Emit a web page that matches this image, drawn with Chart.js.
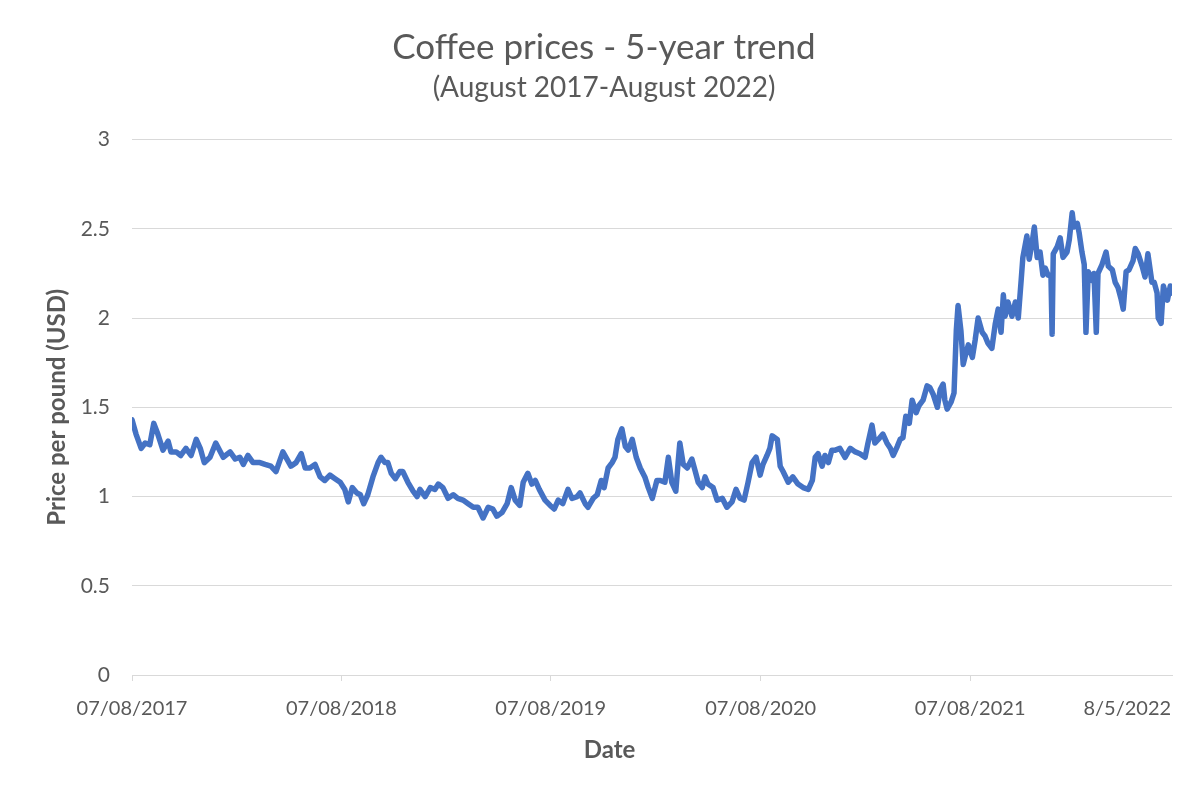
<!DOCTYPE html>
<html lang="en">
<head>
  <meta charset="UTF-8" />
  <title>Coffee prices - 5-year trend</title>
  <script src="https://cdn.jsdelivr.net/npm/chart.js"></script>
  <style>
    body {
      margin: 0;
      padding: 0;
      background-color: #ffffff;
    }

    .chart-box {
      width: 1197px;
      height: 787px;
    }
  </style>
</head>
<body>
  <div class="chart-box">
    <canvas id="coffeeChart" width="1197" height="787"></canvas>
  </div>

  <script>
    // days since 07/08/2017
    const days = [
      0, 7, 16, 23, 31, 38, 45, 54, 63, 68, 77, 85, 94, 103, 112, 119, 126, 136, 146, 159,
      171, 180, 188, 194, 202, 211, 223, 232, 242, 251, 263, 277, 286, 295, 302,
      310, 319, 328, 336, 345, 354, 363, 371, 377, 384, 392, 398, 404, 411, 420, 429, 434, 441, 446, 452,
      459, 467, 472, 481, 490, 497, 502, 511, 520, 528, 534, 542, 551, 560, 568, 577, 586, 595, 603, 612,
      621, 629, 636, 645, 654, 661, 668, 676, 682, 690, 697, 703, 710, 720, 729, 736, 743, 751, 760, 767,
      776, 781, 790, 795, 804, 811, 818, 823, 830, 837, 842, 847, 854, 860, 865, 872, 879, 886, 894, 900,
      907, 915,
      921, 929, 935, 941, 948, 952, 955, 961, 968, 976, 982, 987, 994, 999, 1004, 1013, 1020, 1029, 1037, 1046,
      1053, 1060, 1067, 1074, 1081, 1088, 1095, 1100, 1107, 1112, 1116, 1125, 1130, 1135, 1144, 1152, 1161, 1170, 1179, 1186,
      1191, 1196, 1203, 1208, 1214,
      1220, 1226, 1234, 1243, 1252, 1261, 1269, 1278, 1283, 1290, 1295, 1301, 1309, 1316, 1322, 1327, 1334, 1339, 1344, 1349,
      1355, 1360, 1367, 1372, 1379, 1386, 1391, 1397, 1404, 1409, 1414, 1417, 1421, 1428, 1433, 1437, 1440, 1445, 1449, 1452,
      1458, 1465, 1470, 1475, 1482, 1487, 1492, 1499, 1505, 1510, 1515, 1519, 1522, 1527, 1534, 1540, 1545, 1550, 1553, 1560,
      1564, 1569, 1573, 1578, 1583, 1588, 1592, 1597, 1602, 1604, 1606, 1613, 1618, 1623, 1630, 1634, 1639, 1642, 1648, 1651,
      1656, 1660, 1663, 1667, 1674, 1677, 1681, 1684, 1691, 1698, 1702, 1709, 1714, 1719, 1724, 1728, 1733, 1738, 1745, 1749,
      1754, 1761, 1766, 1771, 1778, 1782, 1787, 1789, 1794, 1798, 1805, 1810, 1813
    ];

    // price per pound (USD)
    const prices = [
      1.43, 1.35, 1.27, 1.30, 1.29, 1.41, 1.35, 1.26, 1.31, 1.25, 1.25, 1.23, 1.27, 1.23, 1.32, 1.27, 1.19, 1.22, 1.30, 1.22,
      1.25, 1.21, 1.22, 1.18, 1.23, 1.19, 1.19, 1.18, 1.17, 1.14, 1.25, 1.17, 1.19, 1.24, 1.16,
      1.16, 1.18, 1.11, 1.09, 1.12, 1.10, 1.08, 1.04, 0.97, 1.05, 1.02, 1.01, 0.96, 1.01, 1.11, 1.19, 1.22, 1.19, 1.19, 1.13,
      1.10, 1.14, 1.14, 1.08, 1.03, 1.00, 1.04, 1.00, 1.05, 1.04, 1.07, 1.05, 0.99, 1.01, 0.99, 0.98, 0.96, 0.94, 0.94, 0.88,
      0.94, 0.93, 0.89, 0.91, 0.96, 1.05, 0.98, 0.95, 1.08, 1.13, 1.07, 1.09, 1.04, 0.98, 0.95, 0.93, 0.98, 0.96, 1.04, 0.99,
      1.00, 1.02, 0.96, 0.94, 0.99, 1.01, 1.09, 1.05, 1.16, 1.19, 1.22, 1.32, 1.38, 1.28, 1.26, 1.32, 1.22, 1.16, 1.11, 1.05,
      0.99, 1.09,
      1.09, 1.08, 1.22, 1.08, 1.03, 1.19, 1.30, 1.18, 1.16, 1.21, 1.14, 1.08, 1.05, 1.11, 1.07, 1.05, 0.98, 0.99, 0.94, 0.97,
      1.04, 0.99, 0.98, 1.08, 1.19, 1.22, 1.12, 1.18, 1.23, 1.27, 1.34, 1.32, 1.17, 1.14, 1.08, 1.11, 1.07, 1.05, 1.04, 1.09,
      1.22, 1.24, 1.17, 1.23, 1.19,
      1.26, 1.26, 1.27, 1.22, 1.27, 1.25, 1.24, 1.22, 1.30, 1.40, 1.30, 1.32, 1.35, 1.30, 1.27, 1.23, 1.28, 1.32, 1.33, 1.45,
      1.41, 1.54, 1.47, 1.51, 1.54, 1.62, 1.61, 1.57, 1.50, 1.60, 1.63, 1.54, 1.49, 1.53, 1.58, 1.93, 2.07, 1.93, 1.74, 1.78,
      1.85, 1.78, 1.88, 2.00, 1.92, 1.90, 1.86, 1.83, 1.97, 2.05, 1.92, 2.13, 2.01, 2.09, 2.01, 2.09, 2.00, 2.21, 2.34, 2.46,
      2.33, 2.42, 2.51, 2.34, 2.37, 2.24, 2.28, 2.24, 2.24, 1.91, 2.36, 2.40, 2.45, 2.34, 2.37, 2.44, 2.59, 2.51, 2.53, 2.48,
      2.37, 2.30, 1.92, 2.26, 2.21, 2.25, 1.92, 2.25, 2.30, 2.37, 2.29, 2.27, 2.20, 2.17, 2.11, 2.05, 2.26, 2.27, 2.32, 2.39,
      2.36, 2.29, 2.23, 2.36, 2.20, 2.20, 2.14, 2.00, 1.97, 2.18, 2.10, 2.18, 2.14
    ];

    const tickDays = [0, 365, 730, 1096, 1461, 1735];
    const tickLabels = ['07/08/2017', '07/08/2018', '07/08/2019', '07/08/2020', '07/08/2021', '8/5/2022'];
    const lastDay = 1813;

    const yMin = 0;
    const yMax = 3;
    const yStep = 0.5;

    const textColor = '#595959';
    const gridColor = '#d9d9d9';
    const fontFamily = 'Lato, "Open Sans", sans-serif';

    const points = days.map((d, i) => ({ x: d, y: prices[i] }));

    // Excel puts the "Date" title a bit left of the plot centre, so draw it by hand
    const xTitlePlugin = {
      id: 'xTitle',
      afterDraw(chart) {
        const c = chart.ctx;
        c.save();
        c.fillStyle = textColor;
        c.font = 'bold 24px ' + fontFamily;
        c.textAlign = 'center';
        c.textBaseline = 'middle';
        c.fillText('Date', chart.width / 2 + 11, chart.height - 37);
        c.restore();
      }
    };

    const ctx = document.getElementById('coffeeChart').getContext('2d');
    const coffeeChart = new Chart(ctx, {
      type: 'line',
      data: {
        datasets: [{
          label: 'Price',
          data: points,
          borderColor: '#4472c4',
          borderWidth: 5.5,
          pointRadius: 0,
          tension: 0,
          borderJoinStyle: 'round',
          borderCapStyle: 'round'
        }]
      },
      options: {
        responsive: false,
        animation: false,
        layout: {
          padding: { left: 36, right: 25, top: 0, bottom: 0 }
        },
        plugins: {
          legend: { display: false },
          tooltip: { enabled: false },
          title: {
            display: true,
            text: 'Coffee prices - 5-year trend',
            color: textColor,
            font: { family: fontFamily, size: 35, weight: 'normal' },
            padding: { top: 27, bottom: 2 }
          },
          subtitle: {
            display: true,
            text: '(August 2017-August 2022)',
            color: textColor,
            font: { family: fontFamily, size: 28, weight: 'normal' },
            padding: { top: 0, bottom: 35 }
          }
        },
        scales: {
          x: {
            type: 'linear',
            min: 0,
            max: lastDay,
            afterBuildTicks: (scale) => {
              scale.ticks = tickDays.map(v => ({ value: v }));
            },
            afterFit: (scale) => {
              scale.height = 112;
            },
            ticks: {
              autoSkip: false,
              maxRotation: 0,
              padding: 16,
              color: textColor,
              font: { family: fontFamily, size: 20 },
              callback: (v) => tickLabels[tickDays.indexOf(v)]
            },
            grid: {
              drawOnChartArea: false,
              drawTicks: true,
              tickLength: 6,
              color: (c) => (c.tick && c.tick.value === 1735 ? 'rgba(0,0,0,0)' : gridColor)
            },
            border: { display: true, color: gridColor }
          },
          y: {
            min: yMin,
            max: yMax,
            afterFit: (scale) => {
              scale.width = 96;
            },
            ticks: {
              stepSize: yStep,
              padding: 22,
              color: textColor,
              font: { family: fontFamily, size: 21 },
              callback: (v) => String(v)
            },
            grid: {
              color: gridColor,
              lineWidth: 1,
              drawTicks: false
            },
            border: { display: false },
            title: {
              display: true,
              text: 'Price per pound (USD)',
              color: textColor,
              font: { family: fontFamily, size: 24, weight: 'bold' },
              padding: { top: 7, bottom: 0 }
            }
          }
        }
      },
      plugins: [xTitlePlugin]
    });
  </script>
</body>
</html>
